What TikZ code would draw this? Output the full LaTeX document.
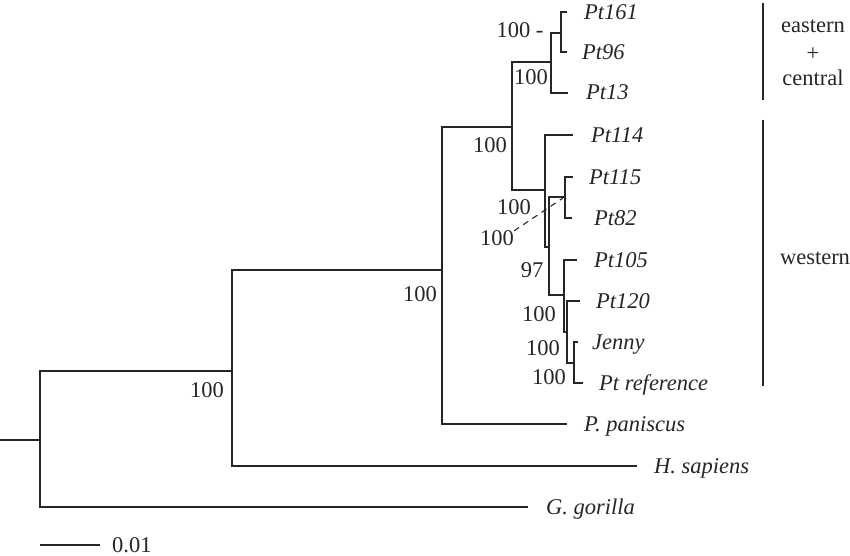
\documentclass[tikz,border=0pt]{standalone}
\usepackage{fontspec}
\setmainfont{Liberation Serif}
\begin{document}
\begin{tikzpicture}[x=1bp,y=-1bp,
  branch/.style={line width=1.8bp, draw=black!85},
  taxon/.style={anchor=base west, inner sep=0pt, font=\fontsize{22.5bp}{26bp}\selectfont\itshape, text=black!85},
  boot/.style={anchor=base, inner sep=0pt, font=\fontsize{22.5bp}{26bp}\selectfont, text=black!85},
  grouplab/.style={anchor=base, inner sep=0pt, font=\fontsize{22.5bp}{26bp}\selectfont, text=black!85, align=center},
  dashedlink/.style={line width=1.1bp, draw=black!85, dash pattern=on 6bp off 5bp}]
\useasboundingbox (0,0) rectangle (850,556);
% internal nodes
\coordinate (root) at (0,440);
\coordinate (n1) at (40,440);
\coordinate (n2) at (232,371);
\coordinate (n3) at (442,270);
\coordinate (n4) at (512,127);
\coordinate (n5) at (551,62);
\coordinate (n6) at (561,33);
\coordinate (n7) at (545,190);
\coordinate (n8) at (549,247);
\coordinate (n9) at (565,197);
\coordinate (n10) at (564,295);
\coordinate (n11) at (567,332);
\coordinate (n12) at (574,363);
% tips
\coordinate (t161) at (567,12);
\coordinate (t96) at (567,52);
\coordinate (t13) at (568,93);
\coordinate (t114) at (573,135);
\coordinate (t115) at (573,177);
\coordinate (t82) at (572,218);
\coordinate (t105) at (577,260);
\coordinate (t120) at (580,301);
\coordinate (tjen) at (578,342);
\coordinate (tref) at (583,383);
\coordinate (tpan) at (567,424);
\coordinate (tsap) at (637,466);
\coordinate (tgor) at (528,507);
% branches
\draw[branch] (root) -- (n1);
\draw[branch] (n1) |- (n2);
\draw[branch] (n1) |- (tgor);
\draw[branch] (n2) |- (n3);
\draw[branch] (n2) |- (tsap);
\draw[branch] (n3) |- (n4);
\draw[branch] (n3) |- (tpan);
\draw[branch] (n4) |- (n5);
\draw[branch] (n4) |- (n7);
\draw[branch] (n5) |- (n6);
\draw[branch] (n5) |- (t13);
\draw[branch] (n6) |- (t161);
\draw[branch] (n6) |- (t96);
\draw[branch] (n7) |- (t114);
\draw[branch] (n7) |- (n8);
\draw[branch] (n8) |- (n9);
\draw[branch] (n8) |- (n10);
\draw[branch] (n9) |- (t115);
\draw[branch] (n9) |- (t82);
\draw[branch] (n10) |- (t105);
\draw[branch] (n10) |- (n11);
\draw[branch] (n11) |- (t120);
\draw[branch] (n11) |- (n12);
\draw[branch] (n12) |- (tjen);
\draw[branch] (n12) |- (tref);
% taxon labels
\node[taxon] (l161) at (584,19.5) {Pt161};
\node[taxon] (l96) at (582,59.5) {Pt96};
\node[taxon] (l13) at (586,100) {Pt13};
\node[taxon] (l114) at (591,142.5) {Pt114};
\node[taxon] (l115) at (589,184.5) {Pt115};
\node[taxon] (l82) at (594,225.5) {Pt82};
\node[taxon] (l105) at (594,267.5) {Pt105};
\node[taxon] (l120) at (596,308.5) {Pt120};
\node[taxon] (ljen) at (592,349.5) {Jenny};
\node[taxon] (lref) at (599,390.5) {Pt reference};
\node[taxon] (lpan) at (584,431.5) {P. paniscus};
\node[taxon] (lsap) at (654,473.5) {H. sapiens};
\node[taxon] (lgor) at (546,514.5) {G. gorilla};
% bootstrap values
\node[boot] (b2) at (207,397) {100};
\node[boot] (b3) at (420,302) {100};
\node[boot] (b4) at (490,153) {100};
\node[boot] (b6) at (520,38) {100 -};
\node[boot] (b5) at (531,85) {100};
\node[boot] (b8) at (514,215) {100};
\node[boot] (b9) at (497,246) {100};
\node[boot] (b10) at (532,278) {97};
\node[boot] (b11) at (539,322) {100};
\node[boot] (b12) at (543,355) {100};
\node[boot] (b13) at (549,384) {100};
\coordinate (dashend) at (563,198);
\draw[dashedlink] (b9.north east) -- (dashend);
% group bars
\coordinate (ea) at (763,3);
\coordinate (eb) at (763,100);
\coordinate (wa) at (763,120);
\coordinate (wb) at (763,386);
\draw[branch, line width=1.4bp] (ea) -- (eb);
\draw[branch, line width=1.4bp] (wa) -- (wb);
\node[grouplab] (geast) at (813,33) {eastern};
\node[grouplab] (gplus) at (813,61) {+};
\node[grouplab] (gcent) at (813,86) {central};
\node[grouplab] (gwest) at (815,265) {western};
% scale bar
\coordinate (sa) at (40,545);
\coordinate (sb) at (100,545);
\draw[branch] (sa) -- (sb);
\node[anchor=base west, inner sep=0pt, font=\fontsize{22.5bp}{26bp}\selectfont, text=black!85] (slab) at (112,552) {0.01};
\end{tikzpicture}
\end{document}
